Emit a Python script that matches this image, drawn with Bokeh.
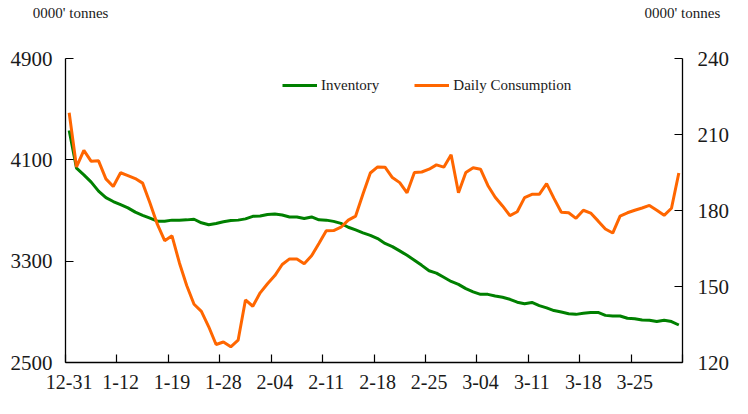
from bokeh.plotting import figure
from bokeh.models import Range1d, LinearAxis, FixedTicker
from bokeh.embed import file_html
from bokeh.resources import INLINE

tick_labels = ["12-31", "1-12", "1-19", "1-28", "2-04", "2-11", "2-18", "2-25",
               "3-04", "3-11", "3-18", "3-25"]
label_step = 7

inventory = [4332, 4034, 3981, 3924, 3853, 3802, 3771, 3746, 3721, 3687,
             3662, 3639, 3616, 3616, 3624, 3624, 3626, 3631, 3603, 3588,
             3598, 3611, 3621, 3624, 3634, 3654, 3657, 3669, 3672, 3664,
             3649, 3649, 3637, 3649, 3626, 3624, 3614, 3598, 3568, 3547,
             3524, 3504, 3478, 3440, 3415, 3381, 3346, 3308, 3267, 3224,
             3206, 3173, 3140, 3117, 3083, 3058, 3038, 3038, 3025, 3015,
             2999, 2976, 2964, 2974, 2949, 2931, 2910, 2898, 2885, 2880,
             2888, 2895, 2895, 2872, 2867, 2867, 2849, 2846, 2836, 2834,
             2823, 2834, 2823, 2796]

consumption = [218.6, 197.2, 203.7, 199.4, 199.6, 192.5, 189.5, 194.9, 193.8, 192.6,
               190.8, 183.0, 174.6, 168.1, 170.0, 159.4, 150.4, 143.0, 140.2, 134.1,
               127.1, 128.1, 126.2, 128.8, 144.7, 142.2, 147.5, 151.1, 154.3, 158.7,
               160.9, 160.9, 159.0, 162.1, 167.0, 172.0, 172.1, 173.4, 176.2, 177.8,
               186.5, 194.8, 197.2, 197.1, 193.0, 191.0, 187.0, 195.0, 195.2, 196.3,
               198.0, 197.1, 202.0, 187.0, 195.0, 196.9, 196.3, 189.9, 185.2, 181.8,
               178.0, 179.5, 185.1, 186.4, 186.4, 190.6, 184.8, 179.3, 179.1, 176.9,
               180.1, 179.0, 175.9, 172.7, 171.1, 177.8, 179.1, 180.1, 181.0, 182.0,
               180.1, 178.1, 180.9, 194.8]

left_ticks = [2500, 3300, 4100, 4900]
right_ticks = [120, 150, 180, 210, 240]
unit_title = "0000' tonnes"

n = len(inventory)
xs = list(range(n))

FONT = "Liberation Serif"
TXT = "#1a1a1a"

p = figure(width=732, height=398, output_backend="svg", toolbar_location=None,
           x_range=Range1d(-0.5, n - 0.5), y_range=Range1d(left_ticks[0], left_ticks[-1]),
           min_border_left=65, min_border_right=48, min_border_top=58, min_border_bottom=36)
p.extra_y_ranges = {"right": Range1d(right_ticks[0], right_ticks[-1])}
p.xgrid.visible = False
p.ygrid.visible = False
p.outline_line_color = None
p.background_fill_color = "white"
p.border_fill_color = "white"

# x axis
major = [i * label_step for i in range(len(tick_labels))]
minor = [i * label_step - 0.5 for i in range(len(tick_labels) + 1)]
xa = p.xaxis[0]
xa.ticker = FixedTicker(ticks=major, minor_ticks=minor)
xa.major_label_overrides = {m: t for m, t in zip(major, tick_labels)}
xa.major_tick_line_color = None
xa.major_tick_in = 0
xa.major_tick_out = 0
xa.minor_tick_in = 8
xa.minor_tick_out = 0
xa.minor_tick_line_color = "black"
xa.minor_tick_line_width = 1.2
xa.major_label_standoff = 12

# left axis
ya = p.yaxis[0]
ya.ticker = FixedTicker(ticks=left_ticks)
ya.major_label_standoff = 13

# right axis
ra = LinearAxis(y_range_name="right", ticker=FixedTicker(ticks=right_ticks))
ra.major_label_standoff = 15
p.add_layout(ra, "right")

for ax in [xa, ya, ra]:
    ax.axis_line_color = "black"
    ax.axis_line_width = 1.3
    ax.major_label_text_font = FONT
    ax.major_label_text_font_size = "21px"
    ax.major_label_text_color = TXT
    ax.major_label_orientation = "horizontal"
xa.major_label_text_font_size = "20px"
for ax in [ya, ra]:
    ax.major_tick_in = 8
    ax.major_tick_out = 0
    ax.major_tick_line_color = "black"
    ax.major_tick_line_width = 1.2
    ax.minor_tick_line_color = None

# unit captions above the two vertical axes (an unlined top axis carries them)
cap_l, cap_r = 0.2, n - 0.51
ta = LinearAxis(ticker=FixedTicker(ticks=[cap_l, cap_r], minor_ticks=[]))
ta.major_label_overrides = {cap_l: unit_title, cap_r: unit_title}
ta.axis_line_color = None
ta.major_tick_line_color = None
ta.minor_tick_line_color = None
ta.major_tick_in = 0
ta.major_tick_out = 0
ta.major_label_standoff = 38
ta.major_label_text_font = FONT
ta.major_label_text_font_size = "15px"
ta.major_label_text_color = TXT
ta.major_label_orientation = "horizontal"
p.add_layout(ta, "above")

p.line(xs, inventory, color="#008000", line_width=3, legend_label="Inventory")
p.line(xs, consumption, y_range_name="right", color="#FF6600", line_width=3,
       legend_label="Daily Consumption")

lg = p.legend[0]
lg.orientation = "horizontal"
lg.location = (217, 268)
lg.border_line_color = None
lg.background_fill_alpha = 0
lg.padding = 0
lg.margin = 0
lg.spacing = 35
lg.glyph_width = 35
lg.glyph_height = 18
lg.label_height = 18
lg.label_standoff = 4
lg.label_text_font = FONT
lg.label_text_font_size = "15px"
lg.label_text_color = TXT

open("out.html", "w").write(file_html(p, INLINE))
